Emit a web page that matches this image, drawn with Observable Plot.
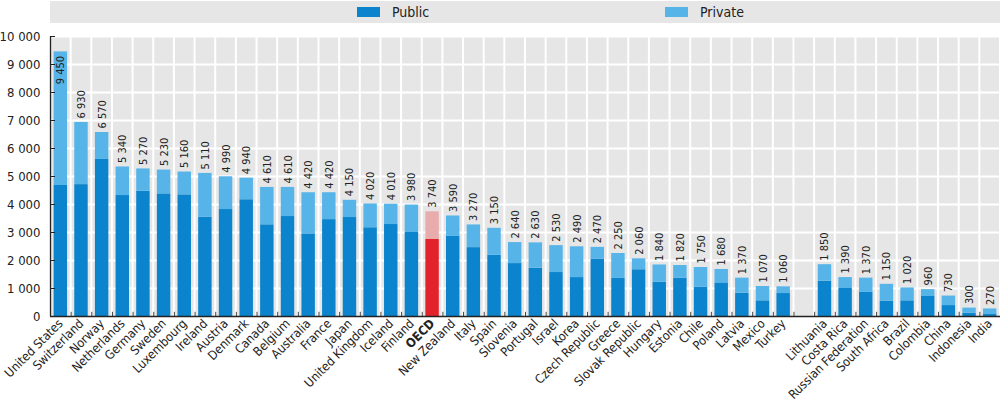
<!DOCTYPE html>
<html><head><meta charset="utf-8">
<script src="https://cdn.jsdelivr.net/npm/d3@7"></script>
<script src="https://cdn.jsdelivr.net/npm/@observablehq/plot@0.6"></script>
<style>
html,body{margin:0;padding:0;background:#fff;overflow:hidden;font-family:"DejaVu Sans Condensed","Liberation Sans",sans-serif;}
#legendWrap{height:26px;position:relative;}
#legend{position:absolute;left:50px;top:1px;width:950px;height:22px;background:#e6e6e6;}
.sw{position:absolute;top:6px;width:23px;height:10px;}
.lt{position:absolute;top:2px;font-size:14px;color:#222;line-height:18px;}
#chart svg{display:block;}
</style></head><body>
<div id="legendWrap"><div id="legend">
<div class="sw" style="left:307px;background:#0b84cd"></div><div class="lt" style="left:342px">Public</div>
<div class="sw" style="left:615px;background:#56b4e8"></div><div class="lt" style="left:650px">Private</div>
</div></div>
<div id="chart"></div>
<script>
const countries = ["United States","Switzerland","Norway","Netherlands","Germany","Sweden","Luxembourg","Ireland","Austria","Denmark","Canada","Belgium","Australia","France","Japan","United Kingdom","Iceland","Finland","OECD","New Zealand","Italy","Spain","Slovenia","Portugal","Israel","Korea","Czech Republic","Greece","Slovak Republic","Hungary","Estonia","Chile","Poland","Latvia","Mexico","Turkey","","Lithuania","Costa Rica","Russian Federation","South Africa","Brazil","Colombia","China","Indonesia","India"];
const totals = [9450,6930,6570,5340,5270,5230,5160,5110,4990,4940,4610,4610,4420,4420,4150,4020,4010,3980,3740,3590,3270,3150,2640,2630,2530,2490,2470,2250,2060,1840,1820,1750,1680,1370,1070,1060,null,1850,1390,1370,1150,1020,960,730,300,270];
const publicValues = [4680,4710,5610,4320,4475,4380,4345,3550,3820,4170,3275,3570,2950,3460,3535,3170,3285,3000,2750,2860,2460,2190,1890,1725,1570,1390,2050,1360,1670,1225,1370,1050,1200,830,560,820,null,1260,1000,860,550,560,715,390,120,70];
const yTicks = [0,1000,2000,3000,4000,5000,6000,7000,8000,9000,10000];

const fmt = d3.formatLocale({decimal:".", thousands:"\u00a0", grouping:[3], currency:["",""]}).format(",");
const W = 1000, ML = 50, MR = 0;
const step = (W - ML - MR) / countries.length;

const rows = [];
const labels = [];
countries.forEach((c, i) => {
  if (totals[i] == null) return;
  rows.push({country: c, type: "Public", value: publicValues[i]});
  rows.push({country: c, type: "Private", value: totals[i] - publicValues[i]});
  labels.push({country: c, total: totals[i]});
});
const colorOf = d => d.country === "OECD"
  ? (d.type === "Public" ? "#e3232b" : "#e9acac")
  : (d.type === "Public" ? "#0b84cd" : "#56b4e8");

const chart = Plot.plot({
  width: W, height: 384,
  marginLeft: ML, marginRight: MR, marginTop: 10, marginBottom: 94,
  style: {fontFamily: '"DejaVu Sans Condensed","Liberation Sans",sans-serif', background: "#fff"},
  x: {type: "band", domain: countries, paddingInner: 0, paddingOuter: 0, round: false},
  y: {domain: [0, 10000]},
  marks: [
    Plot.barY(countries, {x: d => d, y1: 0, y2: 10000, fill: "#e6e6e6", insetLeft: 1, insetRight: 1}),
    Plot.ruleY(yTicks.slice(1), {y: d => d, stroke: "#fff", strokeWidth: 2}),
    Plot.barY(rows, {x: "country", y: "value", fill: colorOf, insetLeft: 3.6, insetRight: 3.6}),
    Plot.text(labels.filter(d => d.total < 9000), {x: "country", y: "total", text: d => fmt(d.total), rotate: -90, textAnchor: "start", lineAnchor: "middle", dy: -4, fontSize: 11, fill: "#222"}),
    Plot.text(labels.filter(d => d.total >= 9000), {x: "country", y: "total", text: d => fmt(d.total), rotate: -90, textAnchor: "end", lineAnchor: "middle", dy: 4, fontSize: 11, fill: "#222"}),
    Plot.ruleX(countries.slice(0, -1), {x: d => d, dx: step / 2, y1: 0, y2: 150, stroke: "#444"}),
    Plot.ruleX([countries[0]], {x: d => d, dx: -step / 2, y1: 0, y2: 10000, stroke: "#222", strokeWidth: 1.3}),
    Plot.ruleY([0], {stroke: "#222", strokeWidth: 1.5}),
    Plot.axisY(yTicks, {tickFormat: fmt, tickSize: -5, tickPadding: 15, fontSize: 13, fill: "#222", stroke: "#222"}),
    Plot.axisX(countries.filter(c => c !== "OECD"), {tickRotate: -45, tickSize: 0, tickPadding: 5, fontSize: 12.5, fill: "#222", label: null}),
    Plot.axisX(["OECD"], {tickRotate: -45, tickSize: 0, tickPadding: 5, fontSize: 12.5, fontWeight: "bold", fill: "#222", label: null})
  ]
});
document.getElementById("chart").appendChild(chart);
</script>
</body></html>
